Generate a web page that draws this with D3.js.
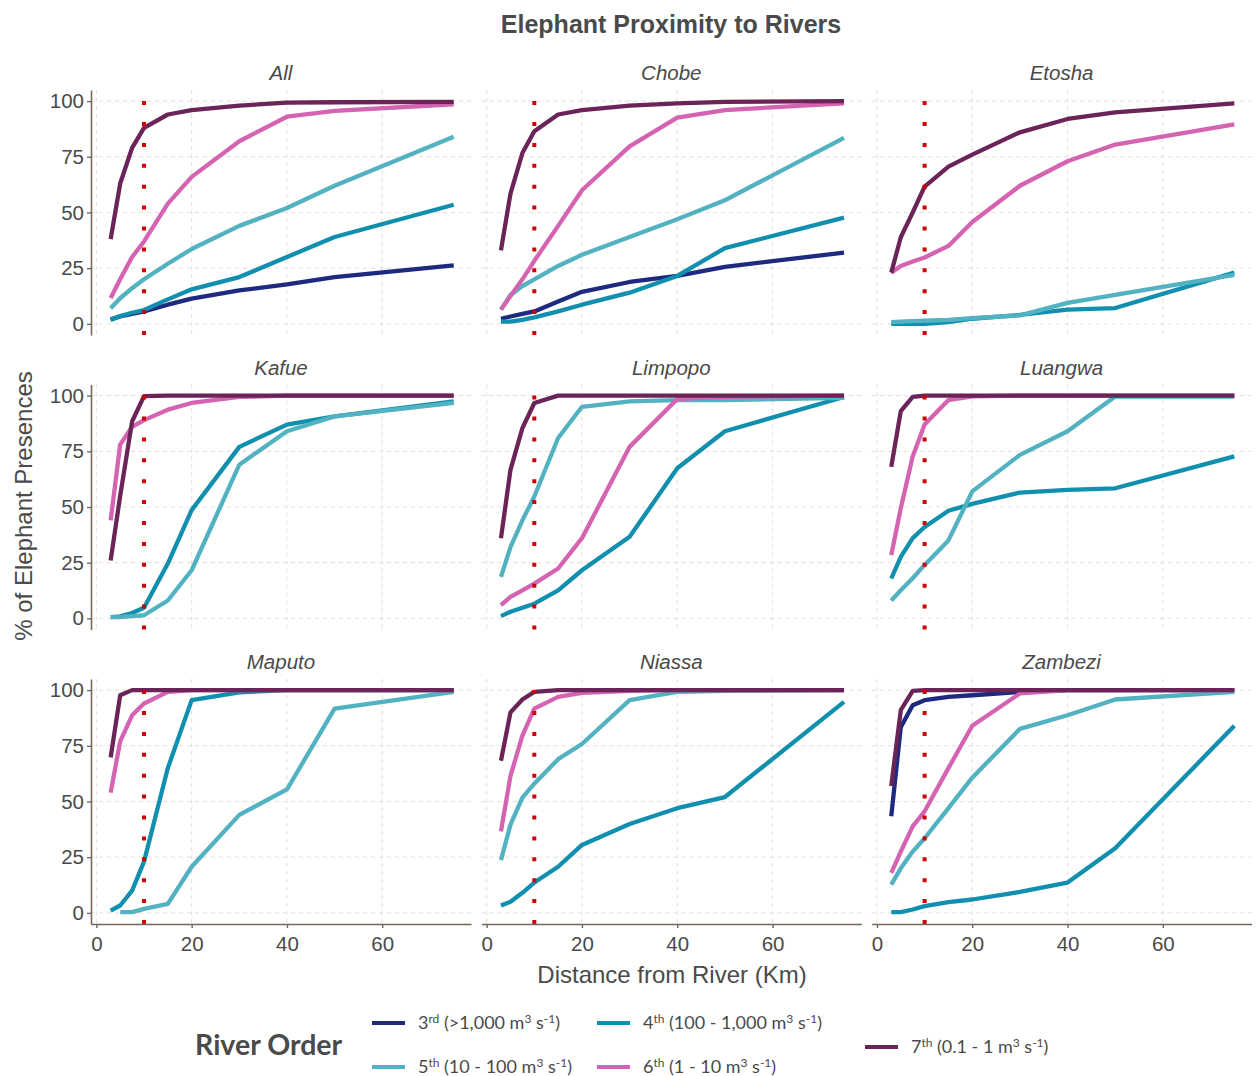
<!DOCTYPE html>
<html>
<head>
<meta charset="utf-8">
<script src="https://cdn.jsdelivr.net/npm/d3@7"></script>
<style>
  body { margin: 0; background: #fff; }
  svg text { font-family: "Liberation Sans", Arial, sans-serif; fill: #4a4a4a; }
</style>
</head>
<body>
<svg id="chart" width="1256" height="1076"></svg>
<script>
// ===================================
// Data
// ===================================

// distance from river (km) sampled for every curve
const DIST = [3, 5, 7.5, 10, 15, 20, 30, 40, 50, 75];

const PANELS = ['All', 'Chobe', 'Etosha', 'Kafue', 'Limpopo', 'Luangwa', 'Maputo', 'Niassa', 'Zambezi'];
const ORDERS = ['3rd', '4th', '5th', '6th', '7th'];
const COLORS = ['#1d2a80', '#118fae', '#52b2c1', '#d463b2', '#6b2457'];

// % of elephant presences, one row per river order (3rd..7th), null = not present
const allVals = [
    [2, 3.3, 4.5, 5.6, 8.6, 11.3, 15, 17.7, 21, 26.3],
    [1.7, 3.5, 5, 6.2, 11, 15.5, 21, 30, 39, 53.5],
    [7, 11.5, 16, 20, 27, 33.6, 44, 52, 62, 84],
    [11.6, 20, 30, 37, 54, 66, 82, 93, 95.6, 98.6],
    [38, 63, 79, 88, 94, 96, 98, 99.3, 99.5, 99.7]
];
const chobeVals = [
    [2.3, 3.3, 4.5, 5.6, 10, 14.4, 18.8, 21.5, 25.6, 32],
    [1, 1, 1.8, 2.9, 5.6, 8.6, 14, 21.5, 34, 47.7],
    [6.4, 13, 17, 20, 26, 31, 39, 47, 55.5, 83.5],
    [6.4, 12.5, 20, 28.3, 44, 60, 79.7, 92.6, 96, 99],
    [33, 58.5, 76.7, 86.5, 94, 96, 98, 99, 99.7, 100]
];
const etoshaVals = [
    null,
    [0, 0, 0, 0, 0.8, 2.3, 4, 6.4, 7.1, 23],
    [0.8, 1, 1.2, 1.4, 1.8, 2.6, 3.8, 9.4, 13, 22],
    [23, 26, 28, 29.8, 35, 45.7, 62, 73, 80.5, 89.6],
    [23, 38.9, 50, 61.6, 70.6, 76, 86, 92, 95, 99]
];
const kafueVals = [
    null,
    [0.6, 0.9, 2.4, 4.8, 24.6, 48.6, 77, 87, 90.7, 97.4],
    [0.6, 0.6, 1, 1.4, 8, 21.6, 69, 84, 90.7, 96.7],
    [44, 78, 86, 89, 93.7, 96.7, 99.4, 100, 100, 100],
    [26, 55, 88.4, 99.8, 100, 100, 100, 100, 100, 100]
];
const limpopoVals = [
    null,
    [1, 3, 4.8, 6.6, 12.6, 21.6, 36.6, 67.4, 84, 99.4],
    [18.6, 32, 44, 54.7, 81, 95, 97.4, 98, 98, 99],
    [5.9, 9.6, 12.6, 15.6, 22.4, 36, 77, 98.5, 99.5, 100],
    [36, 66.7, 85.4, 96.7, 100, 100, 100, 100, 100, 100]
];
const luangwaVals = [
    null,
    [17.9, 27.6, 36, 41, 48.3, 51.4, 56.5, 57.7, 58.4, 72.7],
    [8, 12.6, 18, 24, 35, 57, 73.4, 84, 99.6, 99.6],
    [28.4, 49.4, 72.7, 87, 98, 99.7, 100, 100, 100, 100],
    [68, 93, 99.4, 100, 100, 100, 100, 100, 100, 100]
];
const maputoVals = [
    null,
    [1, 3.3, 10, 23, 65, 95.5, 99, 100, 100, 100],
    [null, 0.3, 0.3, 1.8, 4, 20.7, 44, 55.4, 91.7, 99.2],
    [54, 77, 88.7, 94, 99.2, 100, 100, 100, 100, 100],
    [69.8, 97.7, 100, 100, 100, 100, 100, 100, 100, 100]
];
const niassaVals = [
    null,
    [3.3, 5, 9, 13.6, 20.7, 30.5, 39.9, 47, 52, 94.7],
    [23.7, 39.6, 51.7, 58, 69, 75.8, 95.5, 99.2, 99.7, 100],
    [36.6, 61.5, 79.6, 91.7, 97, 98.8, 99.7, 100, 100, 100],
    [68.3, 90, 95.8, 99.2, 100, 100, 100, 100, 100, 100]
];
const zambeziVals = [
    [43.4, 83.4, 93.2, 95.5, 97, 97.7, 99.2, 100, 100, 100],
    [0.3, 0.3, 1.5, 3, 4.8, 6, 9.4, 13.6, 29, 84],
    [12.7, 20, 27.5, 33.5, 47, 60.7, 82.6, 88.7, 95.8, 99.2],
    [18, 27.5, 38.8, 45.6, 65, 84, 98.5, 100, 100, 100],
    [57, 91, 99.7, 100, 100, 100, 100, 100, 100, 100]
];
const PANEL_VALUES = [allVals, chobeVals, etoshaVals, kafueVals, limpopoVals,
    luangwaVals, maputoVals, niassaVals, zambeziVals];

const X_TICKS = [0, 20, 40, 60];
const Y_TICKS = [0, 25, 50, 75, 100];
const CUTOFF_KM = 10;

// legend text pieces
const LEGEND_NUM = ['3', '4', '5', '6', '7'];
const LEGEND_ORD = ['rd', 'th', 'th', 'th', 'th'];
const LEGEND_FLOW = ['>1,000', '100 - 1,000', '10 - 100', '1 - 10', '0.1 - 1'];

// ===================================
// Layout
// ===================================

const panelW = 380, panelH = 245;
const left0 = 91, top0 = 90;
const gapX = 10.3, gapY = 49.5;

const x = d3.scaleLinear().domain([-1.125, 78.625]).range([0, panelW]);
const y = d3.scaleLinear().domain([-5, 105]).range([panelH, 0]);

const svg = d3.select('#chart');

svg.append('text')
    .attr('x', 671).attr('y', 33)
    .attr('text-anchor', 'middle')
    .attr('fill', '#3c3c3c')
    .style('font-size', '25px').style('font-weight', 'bold')
    .text('Elephant Proximity to Rivers');

const line = d3.line()
    .defined(d => d[1] != null)
    .x(d => x(d[0]))
    .y(d => y(d[1]));

PANELS.forEach((name, i) => {
    const col = i % 3, row = Math.floor(i / 3);
    const g = svg.append('g')
        .attr('transform', `translate(${left0 + col * (panelW + gapX)},${top0 + row * (panelH + gapY)})`);

    // grid
    g.selectAll('.vgrid').data(X_TICKS).join('line')
        .attr('x1', d => x(d)).attr('x2', d => x(d))
        .attr('y1', 0).attr('y2', panelH)
        .attr('stroke', '#e6ddd4').attr('stroke-width', 1).attr('stroke-dasharray', '4,4');
    g.selectAll('.hgrid').data(Y_TICKS).join('line')
        .attr('x1', 0).attr('x2', panelW)
        .attr('y1', d => y(d)).attr('y2', d => y(d))
        .attr('stroke', '#e6ddd4').attr('stroke-width', 1).attr('stroke-dasharray', '4,4');

    // strip label
    g.append('text')
        .attr('x', panelW / 2).attr('y', -10)
        .attr('text-anchor', 'middle')
        .style('font-size', '20.5px').style('font-style', 'italic')
        .text(name);

    // series lines (3rd drawn first, 7th on top)
    PANEL_VALUES[i].forEach((vals, k) => {
        if (!vals) return;
        g.append('path')
            .datum(DIST.map((d, j) => [d, vals[j]]))
            .attr('d', line)
            .attr('fill', 'none')
            .attr('stroke', COLORS[k])
            .attr('stroke-width', 4.3)
            .attr('stroke-linejoin', 'round');
    });

    // 10 km cutoff
    g.append('line')
        .attr('x1', x(CUTOFF_KM)).attr('x2', x(CUTOFF_KM))
        .attr('y1', panelH).attr('y2', 0)
        .attr('stroke', '#d10000').attr('stroke-width', 4)
        .attr('stroke-dasharray', '4,16.9');

    // axes only on outer panels
    if (col === 0) {
        const ay = g.append('g').call(d3.axisLeft(y).tickValues(Y_TICKS).tickSize(4).tickSizeOuter(0).tickPadding(3));
        styleAxis(ay);
    }
    if (row === 2) {
        const ax = g.append('g').attr('transform', `translate(0,${panelH})`)
            .call(d3.axisBottom(x).tickValues(X_TICKS).tickSize(4).tickSizeOuter(0).tickPadding(8));
        styleAxis(ax);
    }
});

function styleAxis(a) {
    a.select('.domain').attr('stroke', '#75685c').attr('stroke-width', 1.6);
    a.selectAll('.tick line').attr('stroke', '#75685c').attr('stroke-width', 1.4);
    a.selectAll('.tick text')
        .style('font-size', '20.5px')
        .style('font-family', '"Liberation Sans", Arial, sans-serif')
        .attr('fill', '#4d4d4d');
}

// axis titles
svg.append('text')
    .attr('x', 672).attr('y', 983)
    .attr('text-anchor', 'middle')
    .style('font-size', '24px')
    .text('Distance from River (Km)');

svg.append('text')
    .attr('transform', 'translate(32,506) rotate(-90)')
    .attr('text-anchor', 'middle')
    .style('font-size', '24px')
    .text('% of Elephant Presences');

// ===================================
// Legend
// ===================================

svg.append('text')
    .attr('x', 195).attr('y', 1055)
    .style('font-family', 'Lato, sans-serif')
    .style('font-size', '28.5px').style('font-weight', 'bold')
    .attr('fill', '#111')
    .text('River Order');

const slots = [[372, 1023], [597, 1023], [372, 1067], [597, 1067], [865, 1047]];

ORDERS.forEach((ord, k) => {
    const [sx, sy] = slots[k];
    svg.append('line')
        .attr('x1', sx).attr('x2', sx + 33)
        .attr('y1', sy).attr('y2', sy)
        .attr('stroke', COLORS[k]).attr('stroke-width', 4);

    const t = svg.append('text')
        .attr('x', sx + 46).attr('y', sy + 6)
        .style('font-family', 'Lato, sans-serif')
        .style('font-size', '18px')
        .attr('fill', '#222');
    const parts = [
        [LEGEND_NUM[k], 0], [LEGEND_ORD[k], 1],
        [' (' + LEGEND_FLOW[k] + ' m', 0], ['3', 1],
        [' s', 0], ['-1', 1], [')', 0]
    ];
    let up = false;
    parts.forEach(([txt, sup]) => {
        const ts = t.append('tspan').text(txt);
        if (sup && !up) { ts.attr('dy', -6).style('font-size', '12px'); up = true; }
        else if (sup) { ts.style('font-size', '12px'); }
        else if (up) { ts.attr('dy', 6); up = false; }
    });
});
</script>
</body>
</html>
